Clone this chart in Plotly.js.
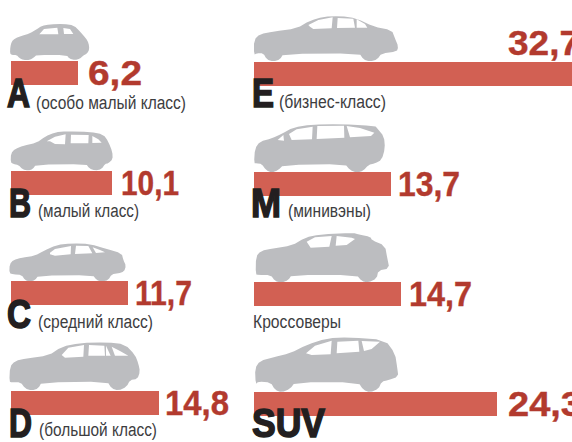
<!DOCTYPE html>
<html><head><meta charset="utf-8">
<style>html,body{margin:0;padding:0;background:#fff;overflow:hidden}#c{width:572px;height:442px}</style>
<script src="https://cdn.plot.ly/plotly-3.0.1.min.js"></script></head>
<body><div id="c"></div>
<script>
// data
const leftCats = ['A','B','C','D'];
const leftBars = [6.7,10.1,11.7,14.8];
const leftLabels = ['6,2','10,1','11,7','14,8'];
const leftNotes = ['(особо малый класс)','(малый класс)','(средний класс)','(большой класс)'];
const rightCats = ['E','M','','SUV'];
const rightKeys = ['E','M','Кроссоверы','SUV'];
const rightBars = [32.7,13.7,14.7,24.3];
const rightLabels = ['32,7','13,7','14,7','24,3'];
const rightNotes = ['(бизнес-класс)','(минивэны)','Кроссоверы',''];

const W=572,H=442;
const BAR='#d26053',VAL='#b23a2e',INK='#231f20',NOTE='#3d3d3f',CAR='#bcbdc0';

// decorative silhouettes, traced in 3x crop coordinates
const cars=[
 {o:[0,0],b:[[30,160],[31,140],[35,125],[45,115],[65,108],[90,100],[110,88],[125,78],[150,73],[190,72],[222,76],[240,95],[258,115],[266,130],[268,148],[262,160],[248,168],[240,176],[225,180],[208,176],[200,165],[110,165],[102,172],[90,180],[70,180],[58,174],[50,165],[35,165]],
  w:[[[118,103],[132,87],[172,83],[175,103]],[[190,84],[210,87],[220,102],[192,102]]]},
 {o:[0,0],b:[[32,487],[33,460],[45,447],[70,437],[110,428],[135,410],[165,397],[200,394],[270,396],[310,403],[325,425],[337,455],[338,478],[325,490],[315,492],[305,507],[285,512],[268,505],[258,492],[108,494],[98,507],[85,512],[68,508],[55,495],[40,492]],
  w:[[[140,424],[165,410],[197,403],[195,433],[165,432],[150,424]],[[213,404],[266,405],[265,430],[212,430]],[[277,408],[295,418],[305,428],[277,429]]]},
 {o:[0,225],b:[[28,145],[29,118],[40,105],[65,98],[105,92],[130,78],[170,60],[215,55],[270,57],[320,72],[365,85],[370,105],[378,122],[372,140],[355,145],[335,148],[325,165],[305,170],[290,165],[278,150],[115,152],[105,165],[90,170],[75,165],[65,150],[40,148]],
  w:[[[150,83],[165,72],[213,63],[212,88],[165,92],[150,88]],[[228,62],[265,63],[277,85],[225,87]],[[278,67],[300,75],[315,82],[288,84]]]},
 {o:[0,225],b:[[28,470],[30,425],[45,408],[80,400],[145,392],[185,365],[240,354],[320,352],[375,358],[405,390],[415,415],[420,440],[412,462],[390,465],[380,485],[355,497],[335,490],[322,470],[125,472],[115,490],[95,497],[75,490],[62,472],[35,472]],
  w:[[[185,390],[205,368],[252,360],[250,395],[195,398]],[[267,360],[313,362],[315,392],[265,392]],[[318,362],[332,392],[318,392]],[[335,365],[360,378],[385,392],[345,392]]]},
 {o:[240,0],b:[[42,165],[42,120],[60,102],[100,95],[170,85],[210,62],[250,50],[300,48],[350,55],[400,80],[455,90],[465,115],[475,140],[470,155],[425,160],[412,178],[390,185],[370,178],[358,160],[130,162],[120,178],[100,185],[80,178],[70,160],[50,160]],
  w:[[[205,75],[235,60],[278,52],[275,85],[220,87],[210,80]],[[293,54],[340,56],[345,83],[291,84]],[[350,58],[375,72],[382,83],[350,83]]]},
 {o:[240,0],b:[[42,490],[45,445],[60,425],[95,415],[125,402],[160,382],[215,374],[300,372],[405,378],[412,385],[432,410],[435,445],[425,480],[405,490],[385,495],[370,512],[350,518],[330,510],[315,492],[130,495],[115,510],[95,518],[78,510],[65,492],[50,490]],
  w:[[[147,402],[170,388],[218,380],[216,418],[155,420]],[[232,378],[312,377],[313,413],[230,417]],[[320,378],[360,384],[403,398],[393,408],[330,412]],[[113,420],[130,405],[132,422]]]},
 {o:[240,225],b:[[47,148],[48,95],[62,78],[100,70],[155,62],[195,38],[240,28],[340,24],[355,28],[392,36],[395,45],[435,62],[442,100],[448,130],[415,137],[410,160],[385,173],[365,168],[350,150],[155,150],[145,165],[125,173],[105,168],[92,150],[55,150]],
  w:[[[200,50],[225,37],[275,33],[268,65],[212,68]],[[290,33],[335,38],[345,42],[320,60],[287,62]]]},
 {o:[240,225],b:[[47,478],[45,430],[60,408],[100,397],[150,385],[200,360],[260,340],[330,337],[435,345],[465,385],[472,430],[475,455],[445,465],[425,470],[415,492],[390,502],[370,495],[355,472],[165,472],[150,492],[125,502],[105,495],[92,472],[55,470]],
  w:[[[198,385],[225,362],[275,347],[272,388],[215,390]],[[292,350],[355,347],[358,380],[290,385]],[[365,348],[420,350],[395,372],[372,378]]]}
];
function chaikin(p){const r=[];p.forEach((a,i)=>{const b=p[(i+1)%p.length];
  r.push([a[0]*.75+b[0]*.25,a[1]*.75+b[1]*.25],[a[0]*.25+b[0]*.75,a[1]*.25+b[1]*.75]);});return r;}
function sub(pts,o){return 'M'+pts.map(p=>((o[0]+p[0]/3)/W).toFixed(5)+','+(1-(o[1]+p[1]/3)/H).toFixed(5)).join('L')+'Z';}
const shapes=cars.map(c=>({type:'path',xref:'paper',yref:'paper',layer:'below',fillrule:'evenodd',
  fillcolor:CAR,line:{width:0},path:sub(chaikin(c.b),c.o)+c.w.map(w=>sub(w,c.o)).join('')}));

const bar=(cats,vals,xa,ya)=>({type:'bar',orientation:'h',y:cats,x:vals,xaxis:xa,yaxis:ya,
  width:24/110,marker:{color:BAR,line:{width:0}},hoverinfo:'skip',cliponaxis:true});
const traces=[bar(leftCats,leftBars,'x','y'),bar(rightKeys,rightBars,'x2','y2')];

const hidden={visible:false,fixedrange:true};
const layout={width:W,height:H,margin:{l:0,r:0,t:0,b:0,pad:0},paper_bgcolor:'#fff',plot_bgcolor:'#fff',showlegend:false,shapes,
  xaxis:{...hidden,domain:[0,1],range:[-1.1,56.1]},
  xaxis2:{...hidden,domain:[0,1],range:[-25.4,31.8],overlaying:'x',anchor:'y2'},
  yaxis:{...hidden,type:'category',categoryorder:'array',categoryarray:leftCats,domain:[0,1],range:[(H-73)/110,-73/110]},
  yaxis2:{...hidden,type:'category',categoryorder:'array',categoryarray:rightKeys,domain:[0,1],overlaying:'y',anchor:'x2',range:[(H-74)/110,-74/110]},
  annotations:[],bargap:0};

const A=layout.annotations, fit=[];
const common={showarrow:false,xanchor:'left',yanchor:'bottom',borderpad:0,borderwidth:0,align:'left'};
const SANS='"Liberation Sans",Arial,sans-serif';
const VF={family:SANS,size:35,color:VAL,weight:700};
const BF={family:SANS,size:41,color:INK,weight:700};
const NF={family:SANS,size:18,color:NOTE};
function txt(t,x,base,font,w,stroke,drop){ // x,base in page pixels
  A.push({...common,text:t,xref:'paper',yref:'paper',x:x/W,y:1-base/H,font,yshift:-font.size*drop});
  fit.push([w,stroke]);
}
const gapsL=[11,10,8,7],gapsR=[12,8,9,12];
const valWL=[54,58,57,64],valWR=[72,62,63,74];
leftLabels.forEach((t,i)=>{A.push({...common,text:t,xref:'x',yref:'y',x:leftBars[i],y:leftCats[i],xshift:gapsL[i]-1,yanchor:'middle',yshift:1,font:VF});fit.push([valWL[i],.4]);});
rightLabels.forEach((t,i)=>{A.push({...common,text:t,xref:'x2',yref:'y2',x:i==0?25.5:rightBars[i],y:rightKeys[i],xshift:i==0?-1:gapsR[i]-1,yanchor:'middle',yshift:i==0?32:1,font:VF});fit.push([valWR[i],.4]);});
const baseL=[108,218,329,438],baseR=[108,218,328,438];
const letX=[7,9,7,9],letXR=[252,251,0,252];
const letW=[23,22,24,23],letWR=[22,30,0,73];
const noteX=[36,38,38,39],noteXR=[279,288,253,0];
const noteW=[150,101,115,118],noteWR=[107,83,88,0];
const noteBL=[109,217,328,436],noteBR=[108,217,328,0];
leftCats.forEach((t,i)=>{txt(t,letX[i],baseL[i],BF,letW[i],1.6,.19);txt(leftNotes[i],noteX[i],noteBL[i],NF,noteW[i],0,.2);});
rightCats.forEach((t,i)=>{if(t)txt(t,letXR[i],baseR[i],BF,letWR[i],1.6,.19);if(rightNotes[i])txt(rightNotes[i],noteXR[i],noteBR[i],NF,noteWR[i],0,.2);});

Plotly.newPlot('c',traces,layout,{displayModeBar:false,staticPlot:true}).then(()=>{
  document.querySelectorAll('#c .annotation-text').forEach((el,i)=>{
    if(!fit[i])return;
    el.setAttribute('textLength',fit[i][0]);
    el.setAttribute('lengthAdjust','spacingAndGlyphs');
    if(fit[i][1]){el.style.stroke=el.style.fill||INK;el.style.strokeWidth=fit[i][1]+'px';}
  });
});
</script></body></html>
